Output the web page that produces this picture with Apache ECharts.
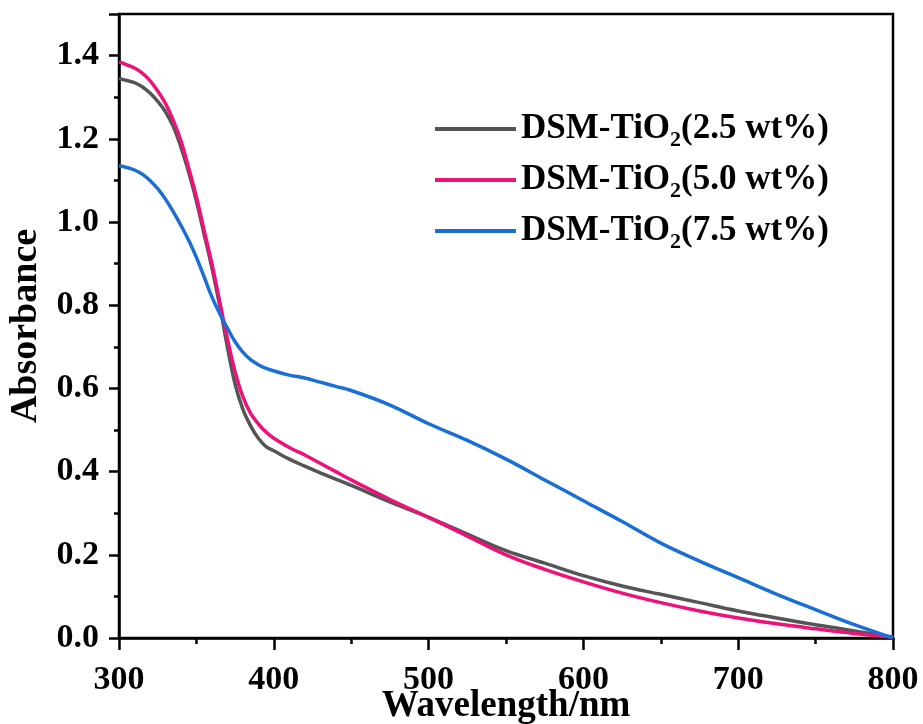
<!DOCTYPE html>
<html>
<head>
<meta charset="utf-8">
<script src="https://cdn.jsdelivr.net/npm/echarts@6/dist/echarts.min.js"></script>
<style>html,body{margin:0;padding:0;background:#fff}#c{width:923px;height:724px}</style>
</head>
<body>
<div id="c"></div>
<script>
var wavelength = [300,305,310,315,320,325,330,335,340,345,350,355,360,365,370,375,380,385,390,395,400,410,420,430,440,450,475,500,525,550,575,600,625,650,675,700,725,750,775,800];
var abs25 = [1.345,1.34,1.335,1.325,1.31,1.29,1.265,1.23,1.18,1.12,1.05,0.97,0.89,0.8,0.7,0.61,0.55,0.51,0.48,0.46,0.45,0.43,0.413,0.397,0.382,0.367,0.327,0.29,0.25,0.21,0.18,0.15,0.125,0.105,0.085,0.065,0.048,0.032,0.017,0.002];
var abs50 = [1.385,1.378,1.37,1.358,1.34,1.315,1.285,1.245,1.195,1.13,1.06,0.98,0.9,0.81,0.72,0.64,0.58,0.54,0.515,0.495,0.48,0.458,0.44,0.42,0.4,0.38,0.333,0.29,0.245,0.2,0.165,0.135,0.108,0.085,0.065,0.048,0.034,0.022,0.011,0.002];
var abs75 = [1.135,1.131,1.125,1.115,1.1,1.08,1.055,1.025,0.992,0.956,0.915,0.868,0.82,0.78,0.745,0.712,0.687,0.669,0.657,0.648,0.642,0.632,0.625,0.615,0.605,0.595,0.56,0.515,0.475,0.43,0.38,0.33,0.28,0.228,0.185,0.145,0.105,0.068,0.032,0.0];
var seriesNames = ['DSM-TiO2(2.5 wt%)','DSM-TiO2(5.0 wt%)','DSM-TiO2(7.5 wt%)'];
var seriesColors = ['#555555','#ee117a','#1a6fd6'];
var xTitle = 'Wavelength/nm';
var yTitle = 'Absorbance';

function pairs(xs, ys){ return xs.map(function(x,i){ return [x, ys[i]]; }); }
var FONT = "'Liberation Serif','Times New Roman',serif";
var chart = echarts.init(document.getElementById('c'), null, {renderer:'canvas'});
var allData = [abs25, abs50, abs75];
chart.setOption({
  animation: false,
  backgroundColor: '#fff',
  grid: {left:119, right:30, top:14, bottom:86, show:true, borderColor:'#000', borderWidth:2.5, backgroundColor:'transparent', containLabel:false, outerBoundsMode:'none'},
  xAxis: {
    type:'value', min:300, max:800, interval:100,
    name: xTitle, nameLocation:'middle', nameGap:50, nameMoveOverlap:false,
    nameTextStyle:{fontFamily:FONT, fontWeight:'bold', fontSize:37, color:'#000', lineHeight:37, verticalAlign:'top'},
    axisLine:{show:true, onZero:false, lineStyle:{color:'#000', width:2.5}},
    axisTick:{show:true, inside:false, length:12, lineStyle:{color:'#000', width:2.5}},
    minorTick:{show:true, splitNumber:2, length:6, lineStyle:{color:'#000', width:2.5}},
    splitLine:{show:false},
    axisLabel:{fontFamily:FONT, fontWeight:'bold', fontSize:34, color:'#000', margin:25}
  },
  yAxis: {
    type:'value', min:0, max:1.5, interval:0.2,
    name: yTitle, nameLocation:'middle', nameGap:74, nameRotate:90, nameMoveOverlap:false,
    nameTextStyle:{fontFamily:FONT, fontWeight:'bold', fontSize:38, color:'#000'},
    axisLine:{show:true, lineStyle:{color:'#000', width:2.5}},
    axisTick:{show:true, inside:false, length:10, lineStyle:{color:'#000', width:2.5}},
    minorTick:{show:true, splitNumber:2, length:5, lineStyle:{color:'#000', width:2.5}},
    splitLine:{show:false},
    axisLabel:{fontFamily:FONT, fontWeight:'bold', fontSize:34, color:'#000', margin:20, showMaxLabel:false,
      formatter:function(v){ return v.toFixed(1); }}
  },
  legend: {
    orient:'vertical', left:430, top:102, itemGap:7, itemWidth:81, itemHeight:14,
    icon:'path://M0,6 L81,6 L81,10 L0,10 Z',
    data: seriesNames,
    formatter:function(n){
      var m = n.match(/^(DSM-TiO)2(.*)$/);
      return '{a|'+m[1]+'}{s|2}{a|'+m[2]+'}';
    },
    textStyle:{fontFamily:FONT, fontWeight:'bold', fontSize:35, color:'#000', padding:[0,0,0,0],
      rich:{
        a:{fontFamily:FONT, fontWeight:'bold', fontSize:35, color:'#000', lineHeight:41},
        s:{fontFamily:FONT, fontWeight:'bold', fontSize:22, color:'#000', lineHeight:41, padding:[22,0,0,0]}
      }}
  },
  series: seriesNames.map(function(n,i){
    return {name:n, type:'line', data:pairs(wavelength, allData[i]), showSymbol:false, symbol:'none', smooth:0.4,
      lineStyle:{color:seriesColors[i], width:3.5}, itemStyle:{color:seriesColors[i]}};
  })
});
</script>
</body>
</html>
